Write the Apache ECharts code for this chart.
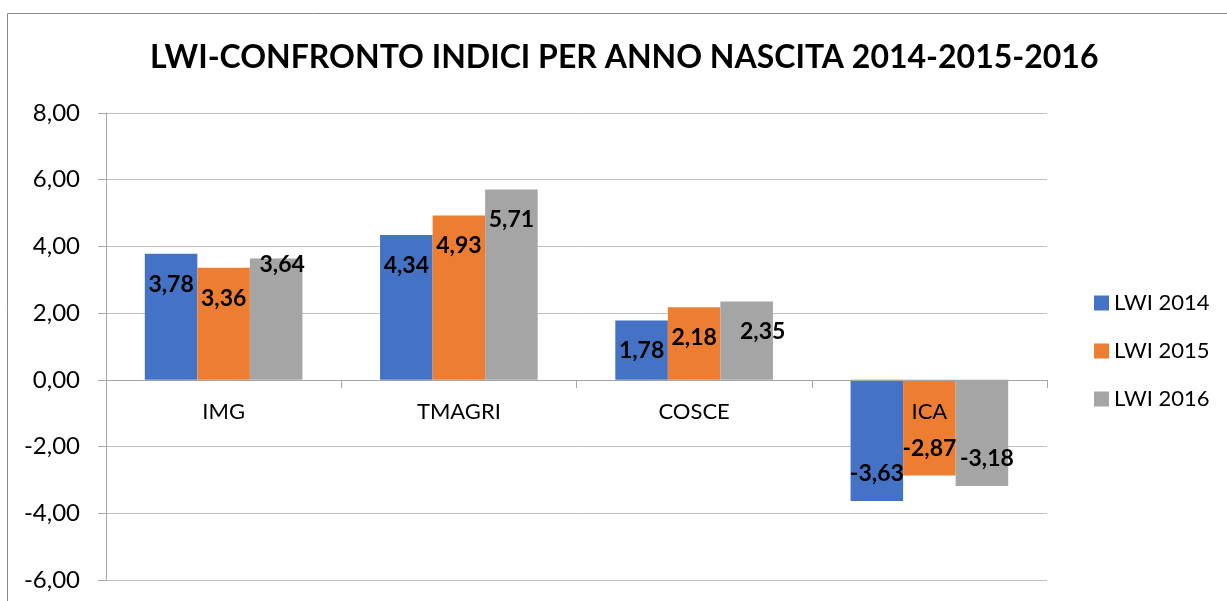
<!DOCTYPE html>
<html>
<head>
<meta charset="utf-8">
<script src="https://cdn.jsdelivr.net/npm/echarts@6/dist/echarts.min.js"></script>
<style>
  html, body { margin: 0; padding: 0; background: #fff; }
  #grafico-lwi { width: 1227px; height: 601px; }
</style>
</head>
<body>
<div id="grafico-lwi"></div>
<script>
var categorie = ["IMG", "TMAGRI", "COSCE", "ICA"];
var lwi2014 = [3.78, 4.34, 1.78, -3.63];
var lwi2015 = [3.36, 4.93, 2.18, -2.87];
var lwi2016 = [3.64, 5.71, 2.35, -3.18];
var nomiSerie = ["LWI 2014", "LWI 2015", "LWI 2016"];

// spostamenti delle etichette (come nel foglio originale)
var spostamenti2016 = [[6, -24], [0, 0], [16, 0], [5, 0]];

var colori = { blu: "#4472C4", arancio: "#ED7D31", grigio: "#A5A5A5" };
var font = "Lato, 'Open Sans', sans-serif";

function virgola(v) {
  return v.toFixed(2).replace(".", ",");
}

function costruisciDati(valori, spostamenti) {
  return valori.map(function (v, i) {
    var neg = v < 0;
    var off = spostamenti ? spostamenti[i] : [0, 0];
    return {
      value: v,
      label: {
        position: neg ? "insideBottom" : "insideTop",
        distance: neg ? 16 : 19,
        offset: off
      }
    };
  });
}

function serie(nome, valori, colore, spostamenti) {
  return {
    name: nome,
    type: "bar",
    barGap: "0%",
    barCategoryGap: "33%",
    data: costruisciDati(valori, spostamenti),
    itemStyle: { color: colore },
    label: {
      show: true,
      color: "#000",
      fontFamily: font,
      fontWeight: "bold",
      fontSize: 23,
      formatter: function (p) { return virgola(p.value); }
    }
  };
}

document.addEventListener("DOMContentLoaded", function () {
  var chart = echarts.init(document.getElementById("grafico-lwi"));
  var option = {
    animation: false,
    textStyle: { fontFamily: font },
    title: {
      text: "LWI-CONFRONTO INDICI PER ANNO NASCITA 2014-2015-2016",
      left: 150,
      top: 42,
      padding: 0,
      textStyle: { fontFamily: font, fontWeight: "bold", fontSize: 32, color: "#000" }
    },
    legend: {
      orient: "vertical",
      left: 1089,
      top: 287,
      itemWidth: 15,
      itemHeight: 15,
      itemGap: 26,
      icon: "rect",
      data: nomiSerie,
      textStyle: { fontFamily: font, fontSize: 22, color: "#000" }
    },
    grid: { left: 106, right: 180, top: 113, bottom: 21, outerBoundsMode: "none" },
    xAxis: {
      type: "category",
      data: categorie,
      z: 5,
      position: "bottom",
      offset: -200,
      axisLine: { onZero: false, lineStyle: { color: "#A6A6A6", width: 1 } },
      axisTick: { show: true, length: 8, lineStyle: { color: "#A6A6A6" } },
      axisLabel: { margin: 21, fontSize: 22, color: "#000", fontFamily: font }
    },
    yAxis: {
      type: "value",
      min: -6,
      max: 8,
      interval: 2,
      axisLine: { show: true, lineStyle: { color: "#A6A6A6" } },
      axisTick: { show: true, length: 8, lineStyle: { color: "#A6A6A6" } },
      splitLine: { lineStyle: { color: "#BFBFBF" } },
      axisLabel: {
        margin: 26,
        fontSize: 24,
        color: "#000",
        fontFamily: font,
        formatter: function (v) { return virgola(v); }
      }
    },
    graphic: [
      {
        type: "rect",
        shape: { x: 7.5, y: 13.5, width: 1240, height: 620 },
        style: { fill: "none", stroke: "#8C8C8C", lineWidth: 1 },
        silent: true
      }
    ],
    series: [
      serie(nomiSerie[0], lwi2014, colori.blu),
      serie(nomiSerie[1], lwi2015, colori.arancio),
      serie(nomiSerie[2], lwi2016, colori.grigio, spostamenti2016)
    ]
  };
  chart.setOption(option);
});
</script>
</body>
</html>
